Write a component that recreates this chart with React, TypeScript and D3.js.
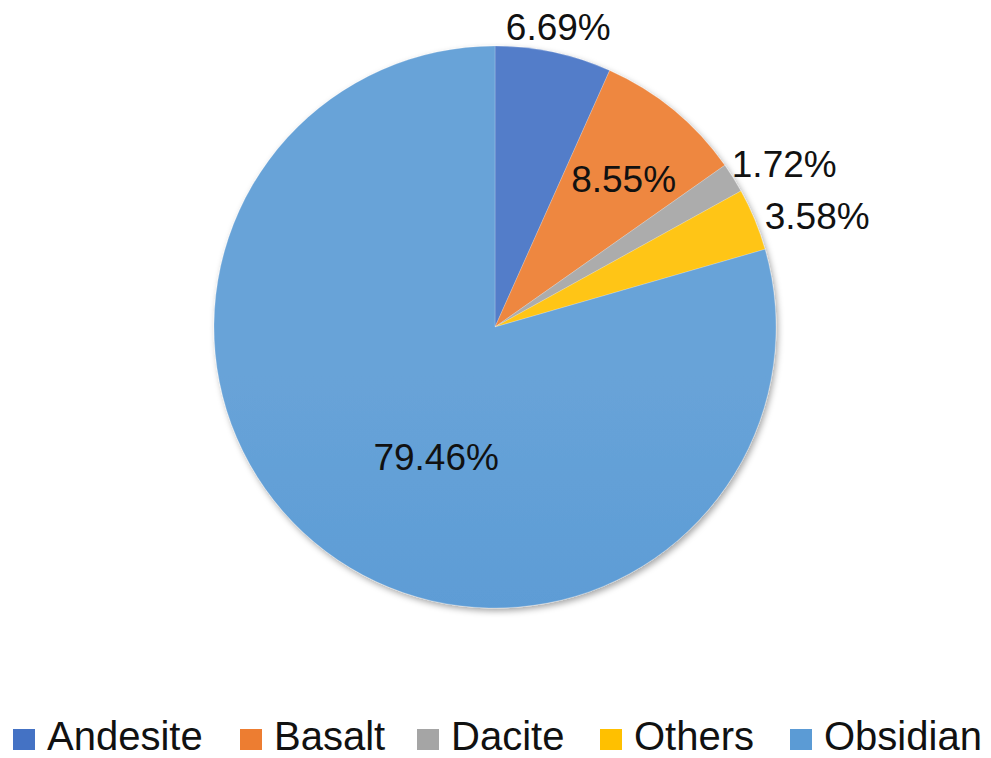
import React from "react";
import * as d3 from "d3";

const categories = ["Andesite", "Basalt", "Dacite", "Others", "Obsidian"];
const values = [6.69, 8.55, 1.72, 3.58, 79.46];
const labels = ["6.69%", "8.55%", "1.72%", "3.58%", "79.46%"];
const baseColors = ["#4472c4", "#ed7d31", "#a5a5a5", "#ffc000", "#5b9bd5"];

// label placement (polar: degrees clockwise from top, radius in px)
const labelAngles = [11.9, 41.0, 60.6, 70.9, 204.5];
const labelRadii = [307, 196, 332, 341, 142];
// legend layout
const legendX = [13, 240, 417, 600, 790];

const W = 991;
const H = 758;
const cx = 495;
const cy = 327;
const R = 281;

export default function App() {
  const pie = d3
    .pie<number>()
    .sort(null)
    .value((d) => d)
    .startAngle(0)
    .endAngle(2 * Math.PI);
  const arcs = pie(values);
  const arc = d3.arc<d3.PieArcDatum<number>>().innerRadius(0).outerRadius(R);
  const lighten = (c: string, t: number) => d3.interpolateRgb(c, "#ffffff")(t);
  const darken = (c: string, t: number) => d3.interpolateRgb(c, "#000000")(t);
  const font = "'Liberation Sans', Arial, sans-serif";

  return (
    <svg
      width={W}
      height={H}
      viewBox={`0 0 ${W} ${H}`}
      style={{ position: "absolute", left: 0, top: 0, background: "#fff" }}
    >
      <defs>
        <filter id="shadow" x="-10%" y="-10%" width="120%" height="120%">
          <feDropShadow dx="2" dy="3" stdDeviation="3" floodColor="#000" floodOpacity="0.35" />
        </filter>
        {baseColors.map((c, i) => (
          <linearGradient
            key={i}
            id={`g${i}`}
            gradientUnits="userSpaceOnUse"
            x1={0}
            x2={0}
            y1={cy - R}
            y2={cy + R}
          >
            <stop offset="0" stopColor={lighten(c, 0.08)} />
            <stop offset="0.5" stopColor={c} />
            <stop offset="1" stopColor={darken(c, 0.12)} />
          </linearGradient>
        ))}
      </defs>
      <g transform={`translate(${cx},${cy})`}>
        <g filter="url(#shadow)">
          {arcs.map((a, i) => (
            <path key={i} d={arc(a) || ""} fill={`url(#g${i})`} stroke="#ffffff" strokeOpacity={0.25} strokeWidth={0.8} />
          ))}
        </g>
        {arcs.map((a, i) => {
          const ang = (labelAngles[i] * Math.PI) / 180;
          const x = labelRadii[i] * Math.sin(ang);
          const y = -labelRadii[i] * Math.cos(ang);
          return (
            <text
              key={i}
              x={x}
              y={y}
              dy="0.36em"
              textAnchor="middle"
              fontFamily={font}
              fontSize={37}
              fill="#111"
            >
              {labels[i]}
            </text>
          );
        })}
      </g>
      <g>
        {categories.map((c, i) => (
          <g key={c} transform={`translate(${legendX[i]},0)`}>
            <rect x={0} y={729} width={22} height={21} fill={baseColors[i]} />
            <text x={34} y={750} fontFamily={font} fontSize={40} fill="#111">
              {c}
            </text>
          </g>
        ))}
      </g>
    </svg>
  );
}
